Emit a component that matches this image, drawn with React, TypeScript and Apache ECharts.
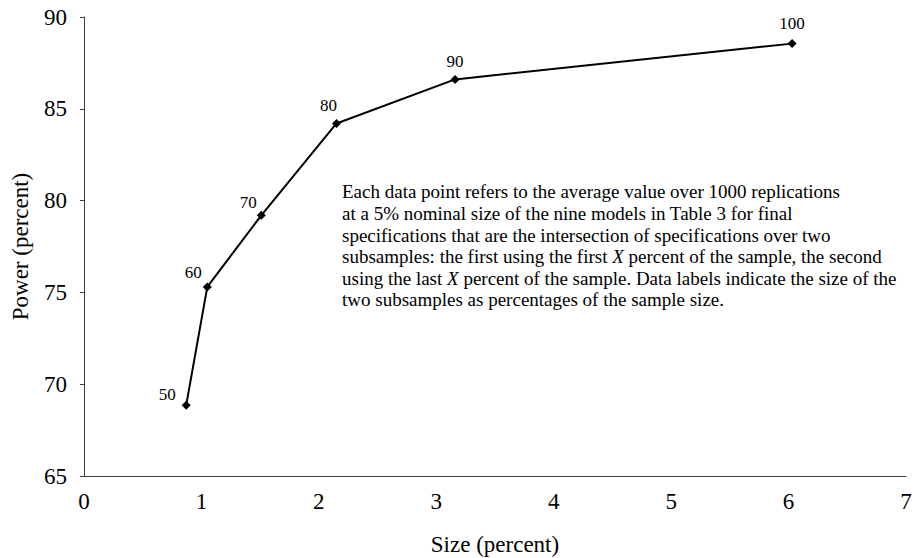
import React, { useEffect, useRef } from "react";
import * as echarts from "echarts";

const sizes = [0.87, 1.05, 1.51, 2.15, 3.16, 6.03];
const powers = [68.85, 75.3, 79.2, 84.2, 86.6, 88.55];
const pointLabels = ["50", "60", "70", "80", "90", "100"];
const labelOffsets = [
  [-19, 7],
  [-14, 4],
  [-13, 5],
  [-8, 0],
  [0, 0],
  [0, -2],
];
const noteLines = [
  "Each data point refers to the average value over 1000 replications",
  "at a 5% nominal size of the nine models in Table 3 for final",
  "specifications that are the intersection of specifications over two",
  "subsamples: the first using the first {i|X} percent of the sample, the second",
  "using the last {i|X} percent of the sample. Data labels indicate the size of the",
  "two subsamples as percentages of the sample size.",
];

const FONT = "'Liberation Serif', 'Times New Roman', serif";

export default function App() {
  const ref = useRef<HTMLDivElement>(null);
  useEffect(() => {
    if (!ref.current) return;
    const chart = echarts.init(ref.current, null, { renderer: "svg" });
    const data = sizes.map((x, i) => ({
      value: [x, powers[i]],
      label: {
        show: true,
        position: "top",
        offset: labelOffsets[i],
        formatter: pointLabels[i],
      },
    }));
    chart.setOption({
      animation: false,
      backgroundColor: "#ffffff",
      textStyle: { fontFamily: FONT },
      grid: { left: 84, right: 13, top: 17, bottom: 82, containLabel: false, outerBoundsMode: "none" },
      xAxis: {
        type: "value",
        min: 0,
        max: 7,
        interval: 1,
        name: "Size (percent)",
        nameLocation: "middle",
        nameGap: 68,
        nameTextStyle: { fontFamily: FONT, fontSize: 23, color: "#000", verticalAlign: "middle" },
        axisLine: { show: true, lineStyle: { color: "#404040", width: 1 } },
        axisTick: { show: false },
        splitLine: { show: false },
        axisLabel: { fontFamily: FONT, fontSize: 23, color: "#000", margin: 14 },
      },
      yAxis: {
        type: "value",
        min: 65,
        max: 90,
        interval: 5,
        name: "Power (percent)",
        nameLocation: "middle",
        nameGap: 64,
        nameRotate: 90,
        nameTextStyle: { fontFamily: FONT, fontSize: 23, color: "#000", verticalAlign: "middle" },
        axisLine: { show: true, onZero: false, lineStyle: { color: "#404040", width: 1 } },
        axisTick: { show: true, length: 4, lineStyle: { color: "#404040" } },
        splitLine: { show: false },
        axisLabel: { fontFamily: FONT, fontSize: 23, color: "#000", margin: 17 },
      },
      series: [
        {
          type: "line",
          data,
          symbol: "diamond",
          symbolSize: 9,
          lineStyle: { color: "#000", width: 2 },
          itemStyle: { color: "#000" },
          label: { fontFamily: FONT, fontSize: 17, color: "#000" },
        },
      ],
      graphic: [
        {
          type: "text",
          left: 342,
          top: 181,
          style: {
            text: noteLines.join("\n"),
            fontFamily: FONT,
            fontSize: 19,
            lineHeight: 21.6,
            fill: "#000",
            rich: {
              i: { fontFamily: FONT, fontSize: 19, fontStyle: "italic", lineHeight: 21.6, fill: "#000" },
            },
          },
        },
      ],
    });
    return () => chart.dispose();
  }, []);
  return (
    <div
      ref={ref}
      style={{ position: "fixed", left: 0, top: 0, width: 919, height: 558, background: "#fff" }}
    />
  );
}
